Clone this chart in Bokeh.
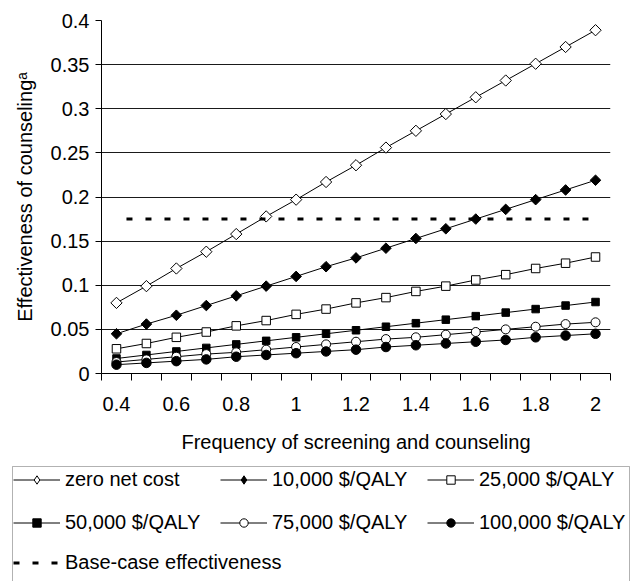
import math
from bokeh.plotting import figure
from bokeh.layouts import column
from bokeh.models import Range1d, FixedTicker, Legend, LegendItem, BoxAnnotation
from bokeh.embed import file_html
from bokeh.resources import INLINE

# ---------------- data ----------------
freq = [0.4, 0.5, 0.6, 0.7, 0.8, 0.9, 1.0, 1.1, 1.2, 1.3, 1.4, 1.5, 1.6, 1.7, 1.8, 1.9, 2.0]
zero_net_cost = [0.080, 0.099, 0.119, 0.138, 0.158, 0.178, 0.197, 0.217, 0.236,
                 0.256, 0.275, 0.294, 0.313, 0.332, 0.351, 0.370, 0.389]
qaly_10k = [0.045, 0.056, 0.066, 0.077, 0.088, 0.099, 0.110, 0.121, 0.131,
            0.142, 0.153, 0.164, 0.175, 0.186, 0.197, 0.208, 0.219]
qaly_25k = [0.028, 0.034, 0.041, 0.047, 0.054, 0.060, 0.067, 0.073, 0.080,
            0.086, 0.093, 0.099, 0.106, 0.112, 0.119, 0.125, 0.132]
qaly_50k = [0.017, 0.021, 0.025, 0.029, 0.033, 0.037, 0.041, 0.045, 0.049,
            0.053, 0.057, 0.061, 0.065, 0.069, 0.073, 0.077, 0.081]
qaly_75k = [0.013, 0.016, 0.019, 0.022, 0.024, 0.027, 0.030, 0.033, 0.036,
            0.039, 0.041, 0.044, 0.047, 0.050, 0.053, 0.056, 0.058]
qaly_100k = [0.010, 0.012, 0.014, 0.016, 0.019, 0.021, 0.023, 0.025, 0.027,
             0.030, 0.032, 0.034, 0.036, 0.038, 0.041, 0.043, 0.045]
base_case = [0.175, 0.175, 0.175, 0.175, 0.175, 0.175, 0.175, 0.175, 0.175,
             0.175, 0.175, 0.175, 0.175, 0.175, 0.175, 0.175, 0.175]

series_labels = ["zero net cost", "10,000 $/QALY", "25,000 $/QALY",
                 "50,000 $/QALY", "75,000 $/QALY", "100,000 $/QALY"]
base_label = "Base-case effectiveness"

x_tick_values = [0.4, 0.6, 0.8, 1.0, 1.2, 1.4, 1.6, 1.8, 2.0]
x_tick_labels = ["0.4", "0.6", "0.8", "1", "1.2", "1.4", "1.6", "1.8", "2"]
x_category_edges = [0.35, 0.45, 0.55, 0.65, 0.75, 0.85, 0.95, 1.05, 1.15,
                    1.25, 1.35, 1.45, 1.55, 1.65, 1.75, 1.85, 1.95, 2.05]
y_tick_values = [0, 0.05, 0.1, 0.15, 0.2, 0.25, 0.3, 0.35, 0.4]
y_tick_labels = ["0", "0.05", "0.1", "0.15", "0.2", "0.25", "0.3", "0.35", "0.4"]

FONT = "Liberation Sans"
FS = "20px"
NO_DATA = [float("nan")]  # legend-key renderers carry no visible data

# ---------------- chart ----------------
p = figure(width=637, height=464, x_range=Range1d(0.35, 2.05), y_range=Range1d(0, 0.4),
           output_backend="svg", toolbar_location=None,
           min_border_left=101, min_border_right=27, min_border_top=20, min_border_bottom=91)
p.outline_line_color = None
p.background_fill_color = "white"
p.border_fill_color = "white"
p.xgrid.grid_line_color = None
p.ygrid.grid_line_color = "#1a1a1a"
p.ygrid.grid_line_width = 1

xa = p.xaxis[0]
xa.ticker = FixedTicker(ticks=x_tick_values, minor_ticks=x_category_edges)
xa.major_label_overrides = dict(zip(x_tick_values, x_tick_labels))
xa.major_tick_line_color = None
xa.major_tick_out = 7
xa.major_tick_in = 0
xa.minor_tick_out = 7
xa.minor_tick_in = 0
xa.minor_tick_line_color = "black"
xa.axis_line_color = "black"
xa.major_label_standoff = 16
xa.axis_label = "Frequency of screening and counseling"
xa.axis_label_standoff = 17

ya = p.yaxis[0]
ya.ticker = FixedTicker(ticks=y_tick_values)
ya.major_label_overrides = dict(zip(y_tick_values, y_tick_labels))
ya.major_tick_out = 6
ya.major_tick_in = 0
ya.minor_tick_line_color = None
ya.axis_line_color = "black"
ya.major_tick_line_color = "black"
ya.major_label_standoff = 6
ya.axis_label = "Effectiveness of counseling\u1d43"
ya.axis_label_standoff = 12

for ax in (xa, ya):
    ax.major_label_text_font = FONT
    ax.major_label_text_font_size = FS
    ax.major_label_text_color = "black"
    ax.axis_label_text_font = FONT
    ax.axis_label_text_font_size = FS
    ax.axis_label_text_font_style = "normal"
    ax.axis_label_text_color = "black"

chart_styles = [("square", "white", 8, math.pi / 4), ("square", "black", 7.5, math.pi / 4),
                ("square", "white", 8.5, 0), ("square", "black", 7.5, 0),
                ("circle", "white", 9, 0), ("circle", "black", 9.5, 0)]
legend_markers = [("diamond", "white"), ("diamond", "black"), ("square", "white"),
                  ("square", "black"), ("circle", "white"), ("circle", "black")]
values = [zero_net_cost, qaly_10k, qaly_25k, qaly_50k, qaly_75k, qaly_100k]

for vals, (mk, fill, sz, ang) in zip(values, chart_styles):
    p.line(freq, vals, line_color="black", line_width=1)
    p.scatter(freq, vals, marker=mk, size=sz, angle=ang, fill_color=fill,
              line_color="black", line_width=1)

p.line(freq, base_case, line_color="black", line_width=3, line_dash="6 13", line_dash_offset=9)

# ---------------- legend panel ----------------
lp = figure(width=637, height=117, x_range=Range1d(0, 1), y_range=Range1d(0, 1),
            output_backend="svg", toolbar_location=None,
            x_axis_location=None, y_axis_location=None,
            min_border_left=0, min_border_right=0, min_border_top=0, min_border_bottom=0)
lp.outline_line_color = None
lp.grid.visible = False
lp.background_fill_color = "white"
lp.border_fill_color = "white"
for fig in (p, lp):
    if "frame_align" in fig.properties():
        fig.frame_align = False

items = []
for lab, (mk, fill) in zip(series_labels, legend_markers):
    lr = lp.line(x=NO_DATA, y=NO_DATA, line_color="black", line_width=1)
    sr = lp.scatter(x=NO_DATA, y=NO_DATA, marker=mk, fill_color=fill,
                    line_color="black", line_width=1)
    items.append(LegendItem(label=lab, renderers=[lr, sr]))
br = lp.line(x=NO_DATA, y=NO_DATA, line_color="black", line_width=3, line_dash="6 13")
items.append(LegendItem(label=base_label, renderers=[br]))

lp.add_layout(BoxAnnotation(left=12, right=629, top=115, bottom=-10,
                            left_units="screen", right_units="screen",
                            top_units="screen", bottom_units="screen",
                            fill_alpha=0, line_color="black", line_width=1))

rows = [items[0:3], items[3:6], items[6:7]]
row_bottoms = [90, 47, 7]
for its, vy in zip(rows, row_bottoms):
    lg = Legend(items=its, orientation="horizontal", location=(13, vy),
                border_line_color=None, background_fill_alpha=0, padding=0, margin=0,
                spacing=5, glyph_width=47, glyph_height=21, label_height=22,
                label_width=150, label_standoff=5,
                label_text_font=FONT, label_text_font_size=FS, label_text_color="black")
    lp.add_layout(lg)

layout = column(p, lp, spacing=0)
open("out.html", "w").write(file_html(layout, INLINE))
